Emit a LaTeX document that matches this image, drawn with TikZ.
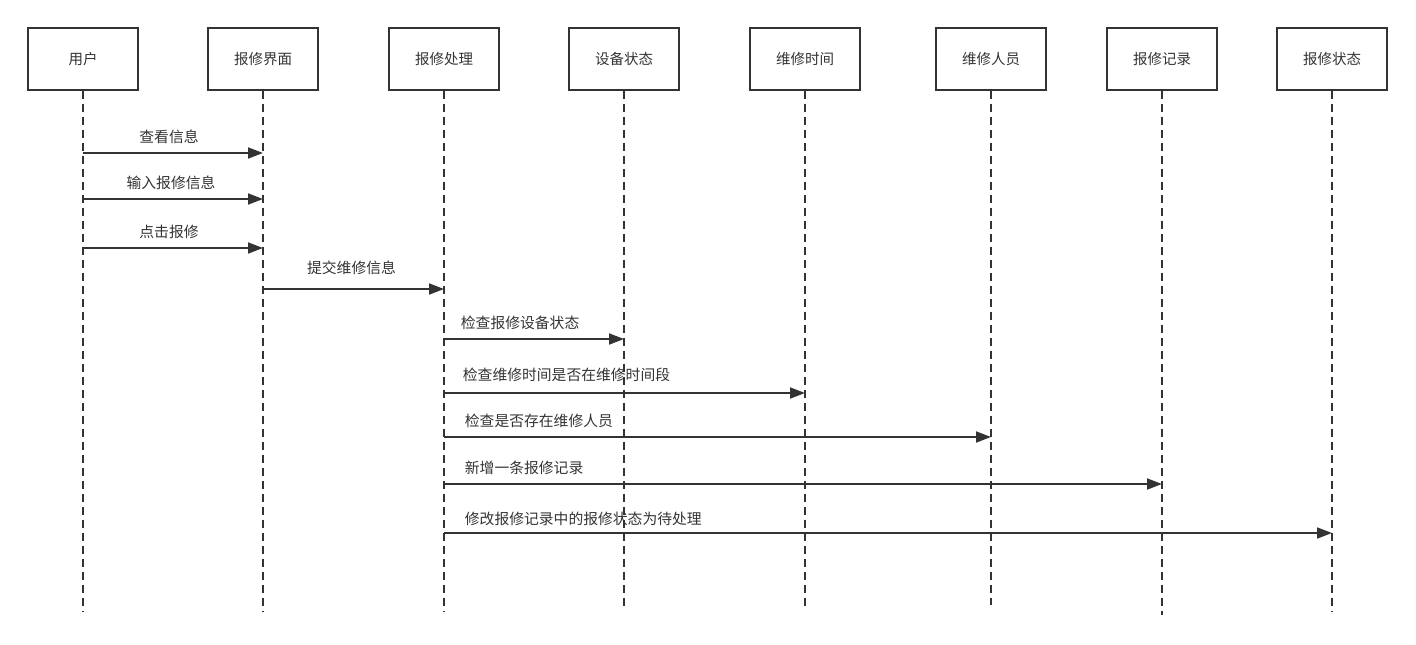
\documentclass[tikz,border=0pt]{standalone}
\usepackage{fontspec}
\setmainfont{Noto Sans CJK SC}
\usetikzlibrary{arrows.meta}
\definecolor{linegray}{HTML}{333333}
\tikzset{
  actor/.style={draw=linegray, line width=1.3pt, minimum width=110pt, minimum height=62pt,
    text=linegray, font=\fontsize{14.5}{17}\selectfont},
  lifeline/.style={draw=linegray, line width=1.6pt, dash pattern=on 8pt off 5pt},
  msg/.style={draw=linegray, line width=1.8pt, -{Triangle[length=15pt,width=11pt]}},
  msglabel/.style={text=linegray, font=\fontsize{14.8}{17}\selectfont, inner sep=0pt}
}
\begin{document}
\begin{tikzpicture}[x=1pt,y=-1pt]
\useasboundingbox (0,0) rectangle (1416,645);
% actors
\node[actor] (user) at (83,59) {用户};
\node[actor] (ui) at (263,59) {报修界面};
\node[actor] (proc) at (444,59) {报修处理};
\node[actor] (dev) at (624,59) {设备状态};
\node[actor] (time) at (805,59) {维修时间};
\node[actor] (staff) at (991,59) {维修人员};
\node[actor] (rec) at (1162,59) {报修记录};
\node[actor] (stat) at (1332,59) {报修状态};
% lifelines
\coordinate (userend) at (83,612);
\coordinate (uiend) at (263,612);
\coordinate (procend) at (444,612);
\coordinate (devend) at (624,610);
\coordinate (timeend) at (805,610);
\coordinate (staffend) at (991,605);
\coordinate (recend) at (1162,615);
\coordinate (statend) at (1332,612);
\draw[lifeline] (user) -- (userend);
\draw[lifeline] (ui) -- (uiend);
\draw[lifeline] (proc) -- (procend);
\draw[lifeline] (dev) -- (devend);
\draw[lifeline] (time) -- (timeend);
\draw[lifeline] (staff) -- (staffend);
\draw[lifeline] (rec) -- (recend);
\draw[lifeline] (stat) -- (statend);
% message heights
\coordinate (m1) at (0,153);
\coordinate (m2) at (0,199);
\coordinate (m3) at (0,248);
\coordinate (m4) at (0,289);
\coordinate (m5) at (0,339);
\coordinate (m6) at (0,393);
\coordinate (m7) at (0,437);
\coordinate (m8) at (0,484);
\coordinate (m9) at (0,533);
% messages
\draw[msg] (user |- m1) -- node[msglabel, above=8pt, xshift=-4pt] {查看信息} (ui |- m1);
\draw[msg] (user |- m2) -- node[msglabel, above=8pt, xshift=-2pt] {输入报修信息} (ui |- m2);
\draw[msg] (user |- m3) -- node[msglabel, above=8pt, xshift=-4pt] {点击报修} (ui |- m3);
\draw[msg] (ui |- m4) -- node[msglabel, above=13pt, xshift=-2pt] {提交维修信息} (proc |- m4);
\draw[msg] (proc |- m5) node[msglabel, anchor=south west, xshift=16pt, yshift=8pt] {检查报修设备状态} -- (dev |- m5);
\draw[msg] (proc |- m6) node[msglabel, anchor=south west, xshift=18pt, yshift=10pt] {检查维修时间是否在维修时间段} -- (time |- m6);
\draw[msg] (proc |- m7) node[msglabel, anchor=south west, xshift=20pt, yshift=8pt] {检查是否存在维修人员} -- (staff |- m7);
\draw[msg] (proc |- m8) node[msglabel, anchor=south west, xshift=20pt, yshift=8pt] {新增一条报修记录} -- (rec |- m8);
\draw[msg] (proc |- m9) node[msglabel, anchor=south west, xshift=20pt, yshift=6pt] {修改报修记录中的报修状态为待处理} -- (stat |- m9);
\end{tikzpicture}
\end{document}
